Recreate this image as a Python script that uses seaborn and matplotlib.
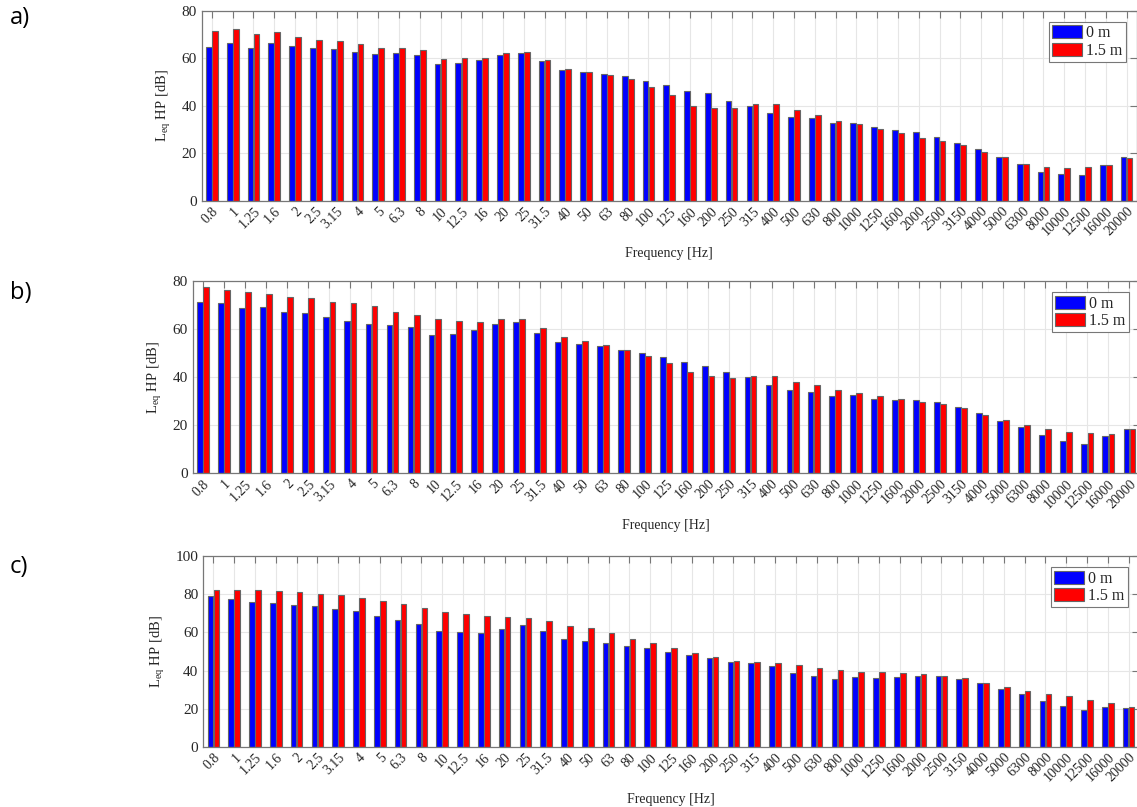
import numpy as np
import pandas as pd
import matplotlib
matplotlib.use("Agg")
import matplotlib.pyplot as plt
import seaborn as sns

# One-third-octave band centre frequencies [Hz]
freqs = ["0.8", "1", "1.25", "1.6", "2", "2.5", "3.15", "4", "5", "6.3", "8",
         "10", "12.5", "16", "20", "25", "31.5", "40", "50", "63", "80", "100",
         "125", "160", "200", "250", "315", "400", "500", "630", "800", "1000",
         "1250", "1600", "2000", "2500", "3150", "4000", "5000", "6300", "8000",
         "10000", "12500", "16000", "20000"]

heights = ["0 m", "1.5 m"]

# Panel a) L_eq HP [dB]
a_0m = [65.0, 66.4, 64.3, 66.5, 65.1, 64.3, 64.0, 62.7, 62.0, 62.2, 61.5,
        57.5, 58.2, 59.2, 61.6, 62.4, 58.9, 55.1, 54.4, 53.4, 52.5, 50.6,
        48.8, 46.3, 45.4, 42.1, 39.9, 37.1, 35.3, 34.7, 32.8, 32.6,
        30.9, 29.8, 28.8, 27.0, 24.2, 21.7, 18.4, 15.3, 12.2,
        11.1, 10.7, 15.0, 18.3]
a_15m = [71.4, 72.4, 70.2, 71.3, 68.9, 67.8, 67.5, 66.0, 64.6, 64.3, 63.4,
         59.9, 60.2, 60.3, 62.4, 62.9, 59.2, 55.4, 54.3, 53.0, 51.2, 48.1,
         44.6, 39.9, 39.2, 39.2, 40.6, 40.6, 38.1, 36.1, 33.8, 32.3,
         30.2, 28.6, 26.4, 25.2, 23.3, 20.4, 18.4, 15.6, 14.2,
         13.9, 14.2, 15.2, 18.0]

# Panel b)
b_0m = [71.4, 70.8, 68.8, 69.3, 67.2, 66.8, 65.1, 63.5, 62.2, 61.8, 61.1,
        57.6, 58.2, 59.6, 62.4, 62.9, 58.6, 54.9, 53.9, 52.9, 51.4, 50.1,
        48.6, 46.2, 44.9, 42.1, 40.0, 36.9, 34.7, 34.0, 32.4, 32.5,
        31.1, 30.7, 30.4, 29.7, 27.5, 25.1, 21.9, 19.4, 15.8,
        13.5, 12.1, 15.7, 18.3]
b_15m = [77.8, 76.5, 75.4, 74.6, 73.6, 72.9, 71.5, 70.8, 69.6, 67.4, 66.0,
         64.2, 63.3, 63.1, 64.2, 64.2, 60.4, 56.9, 55.1, 53.5, 51.3, 49.0,
         46.1, 42.4, 40.6, 39.7, 40.6, 40.6, 38.2, 36.7, 34.9, 33.3,
         32.1, 30.8, 29.7, 28.8, 27.4, 24.3, 22.4, 20.3, 18.6,
         17.4, 16.7, 16.4, 18.3]

# Panel c)
c_0m = [79.2, 77.4, 76.2, 75.3, 74.6, 73.7, 72.2, 71.1, 68.8, 66.4, 64.6,
        60.9, 60.1, 59.7, 61.6, 63.7, 60.6, 56.4, 55.7, 54.3, 52.9, 51.7,
        49.9, 48.2, 46.8, 44.7, 43.8, 42.2, 38.7, 37.3, 35.6, 36.6,
        36.1, 36.4, 37.3, 37.1, 35.6, 33.3, 30.1, 27.5, 23.8,
        21.4, 19.1, 21.0, 20.5]
c_15m = [82.1, 82.1, 82.5, 81.6, 81.4, 80.2, 79.7, 77.9, 76.7, 74.8, 72.9,
         70.9, 69.9, 68.5, 68.0, 67.4, 65.8, 63.6, 62.2, 59.7, 56.7, 54.3,
         51.7, 49.0, 46.9, 44.8, 44.3, 44.1, 42.7, 41.3, 40.3, 39.4,
         39.0, 38.5, 38.0, 37.3, 36.1, 33.5, 31.5, 29.4, 27.8,
         26.4, 24.7, 22.9, 20.8]

panels = [
    ("a)", a_0m, a_15m, 80),
    ("b)", b_0m, b_15m, 80),
    ("c)", c_0m, c_15m, 100),
]

W, H = 1137, 807
# axes boxes in pixels: left, right, top, bottom, and panel-tag height
boxes = [
    (201.5, 1137, 11, 200.7, 18),
    (192.5, 1140, 281.3, 473.3, 293),
    (203, 1139, 556.3, 746.7, 567),
]

sns.set_theme(style="white")
plt.rcParams["font.family"] = ["Liberation Serif", "DejaVu Serif"]
plt.rcParams["mathtext.fontset"] = "custom"
plt.rcParams["mathtext.rm"] = "Liberation Serif"

fig = plt.figure(figsize=(W / 100, H / 100), dpi=100)
palette = {"0 m": "#0000ff", "1.5 m": "#ff0000"}

for (tag, v0, v15, ymax), (l, r, t, b, ty) in zip(panels, boxes):
    ax = fig.add_axes([l / W, 1 - b / H, (r - l) / W, (b - t) / H])
    df = pd.DataFrame({
        "Frequency": freqs * 2,
        "Level": list(v0) + list(v15),
        "Height": [heights[0]] * len(freqs) + [heights[1]] * len(freqs),
    })
    sns.barplot(data=df, x="Frequency", y="Level", hue="Height",
                order=freqs, hue_order=heights, palette=palette,
                width=0.58, gap=0.05, saturation=1, edgecolor="#666666",
                linewidth=0.8, errorbar=None, ax=ax, zorder=3)
    ax.set_xlim(-0.5, len(freqs) - 0.5)
    ax.set_ylim(0, ymax)
    ax.set_yticks(np.arange(0, ymax + 1, 20))
    ax.grid(True, color="#e6e6e6", linewidth=0.8, zorder=0)
    ax.set_axisbelow(True)
    ax.tick_params(axis="both", direction="in", length=5, width=0.8,
                   color="#777777", top=True, right=True,
                   labelsize=11, labelcolor="#262626")
    ax.tick_params(axis="x", labelsize=10, pad=3)
    for lab in ax.get_xticklabels():
        lab.set_rotation(45)
        lab.set_ha("right")
        lab.set_rotation_mode("anchor")
    for sp in ax.spines.values():
        sp.set_color("#777777")
        sp.set_linewidth(0.9)
        sp.set_zorder(4)
    ax.set_xlabel("Frequency [Hz]", fontsize=10, color="#262626", labelpad=6)
    ax.set_ylabel(r"L$_{\mathrm{eq}}$ HP [dB]", fontsize=10.5, color="#262626",
                  labelpad=6)
    leg = ax.legend(loc="upper right", fontsize=11.5, frameon=True,
                    fancybox=False, edgecolor="#777777", framealpha=1,
                    handlelength=1.9, handleheight=0.85, handletextpad=0.25,
                    labelspacing=0.1, borderpad=0.2, borderaxespad=0.7)
    leg.get_frame().set_linewidth(0.8)
    fig.text(10 / W, 1 - ty / H, tag, fontsize=17, family="Open Sans",
             va="center", ha="left", color="#000000")

fig.savefig("out.png", dpi=100)
